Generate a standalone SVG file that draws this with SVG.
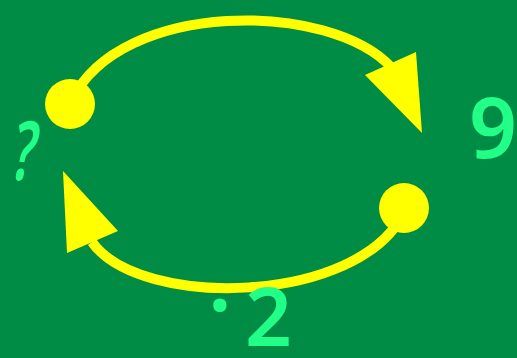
<svg xmlns="http://www.w3.org/2000/svg" width="517" height="358" viewBox="0 0 517 358">
<style>
.lbl{font-family:"Noto Sans","DejaVu Sans",sans-serif;fill:#22FF88;font-weight:600;}
.edge{fill:none;stroke:#FFFF00;stroke-width:10;}
.head{fill:#FFFF00;}
.node{fill:#FFFF00;}
</style>
<rect width="517" height="358" fill="#008C44"/>
<g id="connectors">
<path class="edge" d="M 72 100 C 120 0, 330 0, 392 68"/>
<polygon class="head" points="365,75 416,52 422,133"/>
<path class="edge" d="M 404 212 C 360 305, 140 310, 92 242"/>
<polygon class="head" points="63,171 118,231 67,253"/>
</g>
<g id="node-left"><circle class="node" cx="70" cy="104" r="25"/></g>
<g id="node-right"><circle class="node" cx="404" cy="208" r="25"/></g>
<g id="labels">
<text class="lbl" font-size="82" font-weight="700" transform="translate(9,180) skewX(-10) scale(0.62,1)">?</text>
<text class="lbl" x="469" y="158" font-size="84">9</text>
<text class="lbl" x="245" y="346" font-size="82">2</text>
<text class="lbl" x="208" y="311" font-size="86">.</text>
</g>
</svg>
